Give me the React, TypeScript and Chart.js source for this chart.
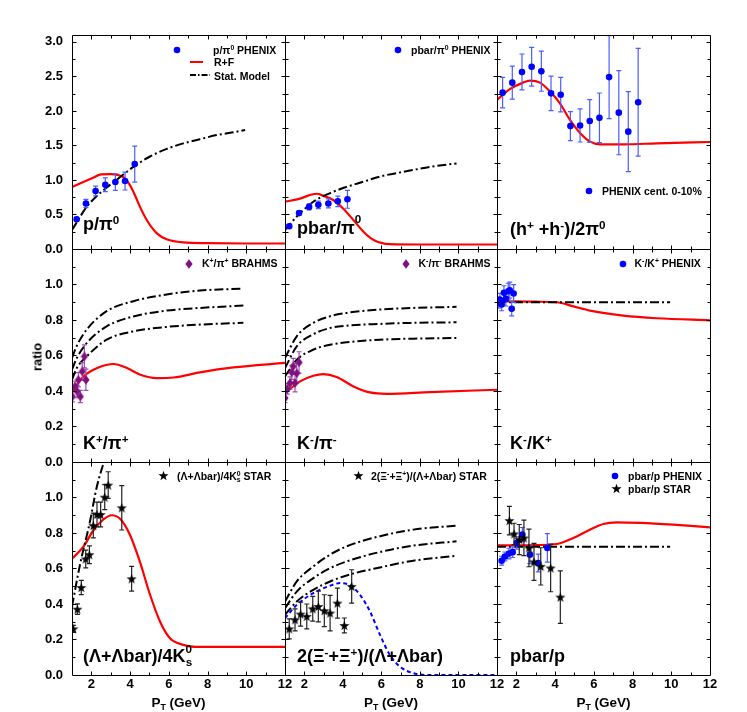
import React, { useEffect, useRef } from "react";
import { Chart, registerables } from "chart.js";
Chart.register(...registerables);

// ---------------- data ----------------
const PT_TICKS = [2, 4, 6, 8, 10, 12];
const Y_TICKS_TOP = [0, 0.5, 1.0, 1.5, 2.0, 2.5, 3.0];
const Y_TICKS_LOW = [0, 0.2, 0.4, 0.6, 0.8, 1.0];

// panel 1: p/pi0
const P1_PT = [1.24, 1.72, 2.22, 2.72, 3.24, 3.74, 4.24];
const P1_RATIO = [0.43, 0.66, 0.84, 0.93, 0.97, 0.985, 1.23];
const P1_ERR = [0.03, 0.06, 0.07, 0.1, 0.12, 0.13, 0.26];
const P1_RF_PT = [1, 1.5, 2.0, 2.5, 3.0, 3.4, 3.65, 3.91, 4.17, 4.51, 4.86, 5.37, 5.89, 6.75, 8, 10, 12];
const P1_RF = [0.9, 0.96, 1.02, 1.08, 1.085, 1.07, 1.04, 0.96, 0.83, 0.61, 0.42, 0.23, 0.14, 0.095, 0.085, 0.08, 0.08];
const P1_STAT_PT = [1, 1.76, 2.45, 3.3, 4.17, 5.03, 5.89, 6.75, 7.6, 8.47, 9.33, 9.94];
const P1_STAT = [0.275, 0.61, 0.81, 1.0, 1.19, 1.34, 1.45, 1.53, 1.59, 1.65, 1.69, 1.725];

// panel 2: pbar/pi0
const P2_PT = [1.22, 1.73, 2.25, 2.73, 3.25, 3.74, 4.24];
const P2_RATIO = [0.33, 0.52, 0.61, 0.64, 0.66, 0.69, 0.72];
const P2_ERR = [0.02, 0.03, 0.045, 0.055, 0.065, 0.075, 0.13];
const P2_RF_PT = [1, 1.78, 2.38, 2.65, 2.99, 3.5, 4.0, 4.55, 5.07, 5.6, 6.44, 8, 12];
const P2_RF = [0.685, 0.73, 0.79, 0.8, 0.77, 0.71, 0.59, 0.42, 0.25, 0.13, 0.07, 0.065, 0.065];
const P2_STAT_PT = [1, 1.61, 2.47, 3.34, 4.2, 5.07, 5.93, 6.8, 7.66, 8.53, 9.9];
const P2_STAT = [0.275, 0.47, 0.685, 0.81, 0.9, 0.975, 1.05, 1.1, 1.145, 1.19, 1.24];

// panel 3: (h+ + h-)/2pi0
const P3_PT = [1.29, 1.79, 2.29, 2.79, 3.29, 3.79, 4.29, 4.79, 5.29, 5.79, 6.29, 6.79, 7.29, 7.78, 8.29];
const P3_RATIO = [2.265, 2.41, 2.565, 2.64, 2.575, 2.255, 2.235, 1.78, 1.79, 1.855, 1.9, 2.49, 1.975, 1.7, 2.125];
const P3_ERR = [0.22, 0.24, 0.26, 0.28, 0.29, 0.25, 0.25, 0.21, 0.24, 0.31, 0.36, 0.6, 0.61, 0.58, 0.78];
const P3_RF_PT = [1, 1.66, 2.35, 2.7, 3.22, 3.74, 4.25, 4.77, 5.29, 5.8, 6.32, 7.5, 9.25, 12];
const P3_RF = [2.16, 2.315, 2.41, 2.44, 2.41, 2.28, 2.11, 1.87, 1.68, 1.555, 1.517, 1.517, 1.53, 1.55];

// panel 4: K+/pi+
const P4_PT = [1.02, 1.15, 1.27, 1.33, 1.43, 1.53, 1.64, 1.72];
const P4_RATIO = [0.369, 0.425, 0.397, 0.463, 0.369, 0.51, 0.595, 0.463];
const P4_ERR = [0.03, 0.03, 0.035, 0.04, 0.035, 0.05, 0.065, 0.06];
const P4_STAT_PT = [1, 1.25, 1.76, 2.79, 4.17, 5.89, 7.6, 9.85];
const P4_STAT_A = [0.586, 0.655, 0.746, 0.85, 0.906, 0.944, 0.966, 0.977];
const P4_STAT_B = [0.52, 0.586, 0.67, 0.764, 0.82, 0.853, 0.868, 0.881];
const P4_STAT_C = [0.463, 0.529, 0.595, 0.689, 0.736, 0.761, 0.774, 0.784];
const P4_RF_PT = [1, 1.6, 2.3, 3.15, 3.84, 4.53, 5.39, 6.25, 7.6, 9.33, 12];
const P4_RF = [0.397, 0.482, 0.529, 0.552, 0.529, 0.492, 0.473, 0.476, 0.505, 0.533, 0.558];

// panel 5: K-/pi-
const P5_PT = [1.0, 1.12, 1.26, 1.35, 1.43, 1.52, 1.61, 1.73];
const P5_RATIO = [0.36, 0.412, 0.445, 0.505, 0.539, 0.445, 0.5, 0.561];
const P5_ERR = [0.025, 0.03, 0.035, 0.04, 0.045, 0.05, 0.055, 0.06];
const P5_STAT_PT = [1, 1.61, 2.47, 3.34, 4.2, 5.93, 7.66, 9.9];
const P5_STAT_A = [0.586, 0.708, 0.784, 0.821, 0.84, 0.859, 0.868, 0.874];
const P5_STAT_B = [0.529, 0.651, 0.72, 0.755, 0.768, 0.778, 0.784, 0.787];
const P5_STAT_C = [0.482, 0.576, 0.633, 0.661, 0.674, 0.689, 0.695, 0.699];
const P5_RF_PT = [1, 1.78, 2.47, 2.99, 3.68, 4.55, 5.41, 6.28, 8.53, 12];
const P5_RF = [0.388, 0.454, 0.486, 0.495, 0.479, 0.426, 0.392, 0.384, 0.394, 0.407];

// panel 6: K-/K+
const P6_PT = [1.07, 1.15, 1.24, 1.36, 1.46, 1.58, 1.66, 1.76, 1.86];
const P6_RATIO = [0.897, 0.915, 0.887, 0.953, 0.919, 0.962, 0.968, 0.863, 0.949];
const P6_ERR = [0.03, 0.035, 0.035, 0.04, 0.04, 0.045, 0.045, 0.04, 0.05];
const P6_STAT_PT = [1, 9.94];
const P6_STAT = [0.9, 0.9];
const P6_RF_PT = [1, 2, 3, 4.08, 4.95, 5.8, 7.52, 9.25, 12];
const P6_RF = [0.905, 0.905, 0.903, 0.9, 0.877, 0.853, 0.825, 0.81, 0.798];

// panel 7: (Lambda+Lambdabar)/4K0s
const P7_PT = [1.07, 1.28, 1.48, 1.71, 1.9, 2.1, 2.29, 2.48, 2.69, 2.87, 3.57, 4.08];
const P7_RATIO = [0.26, 0.371, 0.493, 0.654, 0.678, 0.842, 0.904, 0.904, 1.002, 1.07, 0.942, 0.542];
const P7_ERR = [0.02, 0.03, 0.04, 0.05, 0.05, 0.07, 0.07, 0.07, 0.07, 0.075, 0.125, 0.07];
const P7_STAT_PT = [1, 1.41, 1.93, 2.27, 2.7];
const P7_STAT = [0.386, 0.62, 0.866, 1.055, 1.22];
const P7_RF_PT = [1, 1.6, 2.1, 2.62, 3.05, 3.48, 3.99, 4.5, 5.03, 5.55, 6.06, 6.75, 7.6, 12];
const P7_RF = [0.655, 0.725, 0.814, 0.876, 0.9, 0.88, 0.79, 0.64, 0.452, 0.3, 0.207, 0.17, 0.158, 0.158];

// panel 8: 2(Xi- + Xi+)/(Lambda+Lambdabar)
const P8_PT = [1.22, 1.52, 1.81, 2.13, 2.44, 2.73, 3.04, 3.34, 3.72, 4.08, 4.46];
const P8_RATIO = [0.26, 0.311, 0.343, 0.33, 0.373, 0.386, 0.362, 0.349, 0.405, 0.279, 0.499];
const P8_ERR = [0.056, 0.062, 0.068, 0.07, 0.07, 0.087, 0.09, 0.1, 0.085, 0.042, 0.094];
const P8_STAT_PT = [1, 1.61, 2.47, 3.34, 4.2, 5.93, 7.66, 9.9];
const P8_STAT_A = [0.414, 0.527, 0.612, 0.678, 0.725, 0.782, 0.819, 0.842];
const P8_STAT_B = [0.377, 0.47, 0.546, 0.602, 0.64, 0.693, 0.729, 0.753];
const P8_STAT_C = [0.339, 0.414, 0.48, 0.527, 0.561, 0.606, 0.644, 0.672];
const P8_MODEL_PT = [1, 1.61, 2.47, 3.34, 3.86, 4.38, 4.89, 5.41, 5.93, 6.44, 6.96, 7.66, 8.5, 12];
const P8_MODEL = [0.32, 0.395, 0.461, 0.503, 0.518, 0.505, 0.452, 0.358, 0.226, 0.113, 0.047, 0.01, 0, 0];

// panel 9: pbar/p
const P9_PHENIX_PT = [1.24, 1.41, 1.62, 1.81, 2.02, 2.31, 2.7, 3.13, 3.6];
const P9_PHENIX = [0.644, 0.668, 0.684, 0.692, 0.744, 0.791, 0.678, 0.631, 0.716];
const P9_PHENIX_ERR = [0.025, 0.025, 0.03, 0.03, 0.035, 0.04, 0.05, 0.05, 0.08];
const P9_STAR_PT = [1.64, 1.88, 2.15, 2.39, 2.65, 2.91, 3.26, 3.77, 4.27];
const P9_STAR = [0.87, 0.795, 0.763, 0.772, 0.716, 0.637, 0.612, 0.603, 0.439];
const P9_STAR_ERR = [0.08, 0.06, 0.085, 0.1, 0.106, 0.104, 0.105, 0.134, 0.148];
const P9_STAT_PT = [1, 9.94];
const P9_STAT = [0.723, 0.723];
const P9_RF_PT = [1, 2, 3, 4.08, 4.94, 5.8, 6.49, 7.18, 8.39, 10.1, 12];
const P9_RF = [0.73, 0.73, 0.732, 0.738, 0.772, 0.819, 0.851, 0.86, 0.857, 0.847, 0.832];

// ---------------- layout / styles ----------------
const FONT = "'Liberation Sans', Arial, Helvetica, sans-serif";
const COLS = [72, 285, 497, 710];
const ROWS = [35, 249, 462, 675];

type Kind = "circle" | "diamond" | "star" | "red" | "stat" | "blueDash";
type Series = { kind: Kind; x: number[]; y: number[]; err?: number[] };
type PanelDef = { ymax: number; yticks: number[]; yStep: number; series: Series[] };

const PANELS: PanelDef[] = [
  { ymax: 3.1, yticks: Y_TICKS_TOP, yStep: 0.25, series: [
    { kind: "circle", x: P1_PT, y: P1_RATIO, err: P1_ERR },
    { kind: "stat", x: P1_STAT_PT, y: P1_STAT },
    { kind: "red", x: P1_RF_PT, y: P1_RF },
  ] },
  { ymax: 3.1, yticks: Y_TICKS_TOP, yStep: 0.25, series: [
    { kind: "circle", x: P2_PT, y: P2_RATIO, err: P2_ERR },
    { kind: "stat", x: P2_STAT_PT, y: P2_STAT },
    { kind: "red", x: P2_RF_PT, y: P2_RF },
  ] },
  { ymax: 3.1, yticks: Y_TICKS_TOP, yStep: 0.25, series: [
    { kind: "circle", x: P3_PT, y: P3_RATIO, err: P3_ERR },
    { kind: "red", x: P3_RF_PT, y: P3_RF },
  ] },
  { ymax: 1.2, yticks: Y_TICKS_LOW, yStep: 0.1, series: [
    { kind: "diamond", x: P4_PT, y: P4_RATIO, err: P4_ERR },
    { kind: "stat", x: P4_STAT_PT, y: P4_STAT_A },
    { kind: "stat", x: P4_STAT_PT, y: P4_STAT_B },
    { kind: "stat", x: P4_STAT_PT, y: P4_STAT_C },
    { kind: "red", x: P4_RF_PT, y: P4_RF },
  ] },
  { ymax: 1.2, yticks: Y_TICKS_LOW, yStep: 0.1, series: [
    { kind: "diamond", x: P5_PT, y: P5_RATIO, err: P5_ERR },
    { kind: "stat", x: P5_STAT_PT, y: P5_STAT_A },
    { kind: "stat", x: P5_STAT_PT, y: P5_STAT_B },
    { kind: "stat", x: P5_STAT_PT, y: P5_STAT_C },
    { kind: "red", x: P5_RF_PT, y: P5_RF },
  ] },
  { ymax: 1.2, yticks: Y_TICKS_LOW, yStep: 0.1, series: [
    { kind: "circle", x: P6_PT, y: P6_RATIO, err: P6_ERR },
    { kind: "stat", x: P6_STAT_PT, y: P6_STAT },
    { kind: "red", x: P6_RF_PT, y: P6_RF },
  ] },
  { ymax: 1.2, yticks: Y_TICKS_LOW, yStep: 0.1, series: [
    { kind: "star", x: P7_PT, y: P7_RATIO, err: P7_ERR },
    { kind: "stat", x: P7_STAT_PT, y: P7_STAT },
    { kind: "red", x: P7_RF_PT, y: P7_RF },
  ] },
  { ymax: 1.2, yticks: Y_TICKS_LOW, yStep: 0.1, series: [
    { kind: "star", x: P8_PT, y: P8_RATIO, err: P8_ERR },
    { kind: "stat", x: P8_STAT_PT, y: P8_STAT_A },
    { kind: "stat", x: P8_STAT_PT, y: P8_STAT_B },
    { kind: "stat", x: P8_STAT_PT, y: P8_STAT_C },
    { kind: "blueDash", x: P8_MODEL_PT, y: P8_MODEL },
  ] },
  { ymax: 1.2, yticks: Y_TICKS_LOW, yStep: 0.1, series: [
    { kind: "star", x: P9_STAR_PT, y: P9_STAR, err: P9_STAR_ERR },
    { kind: "circle", x: P9_PHENIX_PT, y: P9_PHENIX, err: P9_PHENIX_ERR },
    { kind: "stat", x: P9_STAT_PT, y: P9_STAT },
    { kind: "red", x: P9_RF_PT, y: P9_RF },
  ] },
];

// ---------------- marker images ----------------
function starPoints(cx: number, cy: number, ro: number, ri: number): [number, number][] {
  const p: [number, number][] = [];
  for (let i = 0; i < 10; i++) {
    const r = i % 2 === 0 ? ro : ri;
    const a = -Math.PI / 2 + (i * Math.PI) / 5;
    p.push([cx + r * Math.cos(a), cy + r * Math.sin(a)]);
  }
  return p;
}
let STAR_IMG: HTMLCanvasElement | null = null;
let DIAMOND_IMG: HTMLCanvasElement | null = null;
function starImg() {
  if (STAR_IMG) return STAR_IMG;
  const c = document.createElement("canvas");
  c.width = 11; c.height = 11;
  const ctx = c.getContext("2d")!;
  ctx.fillStyle = "#000";
  ctx.beginPath();
  starPoints(5.5, 6, 5.3, 2.1).forEach(([x, y], i) => (i ? ctx.lineTo(x, y) : ctx.moveTo(x, y)));
  ctx.closePath();
  ctx.fill();
  STAR_IMG = c;
  return c;
}
function diamondImg() {
  if (DIAMOND_IMG) return DIAMOND_IMG;
  const c = document.createElement("canvas");
  c.width = 8; c.height = 10;
  const ctx = c.getContext("2d")!;
  ctx.fillStyle = "#80107f";
  ctx.beginPath();
  ctx.moveTo(4, 0.3); ctx.lineTo(7.6, 5); ctx.lineTo(4, 9.7); ctx.lineTo(0.4, 5);
  ctx.closePath();
  ctx.fill();
  DIAMOND_IMG = c;
  return c;
}

function toDataset(s: Series): any {
  const data = s.x.map((v, i) => ({ x: v, y: s.y[i] }));
  switch (s.kind) {
    case "circle":
      return { data, errors: s.err, errColor: "#4d5cff", showLine: false, pointStyle: "circle", pointRadius: 3.3,
        pointBackgroundColor: "#0000ff", pointBorderWidth: 0 };
    case "diamond":
      return { data, errors: s.err, errColor: "#a050b4", showLine: false, pointStyle: diamondImg(), pointRadius: 4 };
    case "star":
      return { data, errors: s.err, errColor: "#222", showLine: false, pointStyle: starImg(), pointRadius: 4 };
    case "red":
      return { data, showLine: true, borderColor: "#ff0000", borderWidth: 2.2, pointRadius: 0, cubicInterpolationMode: "monotone" };
    case "stat":
      return { data, showLine: true, borderColor: "#000", borderWidth: 2, borderDash: [9, 3, 2, 3], pointRadius: 0, cubicInterpolationMode: "monotone" };
    case "blueDash":
      return { data, showLine: true, borderColor: "#0000ff", borderWidth: 2, borderDash: [4, 3], pointRadius: 0, cubicInterpolationMode: "monotone" };
  }
}

// ---------------- plugins ----------------
const errorBars = {
  id: "errorBars",
  beforeDatasetDraw(chart: any, args: any) {
    const ds = chart.data.datasets[args.index];
    if (!ds.errors) return;
    const { ctx, chartArea: a, scales } = chart;
    ctx.save();
    ctx.beginPath();
    ctx.rect(a.left, a.top, a.right - a.left, a.bottom - a.top);
    ctx.clip();
    ctx.strokeStyle = ds.errColor;
    ctx.lineWidth = 1.2;
    ds.data.forEach((p: any, i: number) => {
      const e = ds.errors[i];
      const px = scales.x.getPixelForValue(p.x);
      const y1 = scales.y.getPixelForValue(p.y - e);
      const y2 = scales.y.getPixelForValue(p.y + e);
      ctx.beginPath();
      ctx.moveTo(px, y1); ctx.lineTo(px, y2);
      ctx.moveTo(px - 2.5, y1); ctx.lineTo(px + 2.5, y1);
      ctx.moveTo(px - 2.5, y2); ctx.lineTo(px + 2.5, y2);
      ctx.stroke();
    });
    ctx.restore();
  },
};

const frame = {
  id: "frame",
  afterDraw(chart: any, _args: any, opts: any) {
    const { ctx, chartArea: a, scales } = chart;
    const L = Math.floor(a.left) + 0.5, R = Math.floor(a.right) + 0.5;
    const T = Math.floor(a.top) + 0.5, B = Math.floor(a.bottom) + 0.5;
    ctx.save();
    ctx.strokeStyle = "#000";
    ctx.lineWidth = 1;
    ctx.beginPath();
    for (let v = 2; v < 12; v++) {
      const px = Math.round(scales.x.getPixelForValue(v)) + 0.5;
      const len = v % 2 === 0 ? 4 : 3;
      ctx.moveTo(px, B); ctx.lineTo(px, B - len);
      ctx.moveTo(px, T); ctx.lineTo(px, T + len);
    }
    const n = Math.round(opts.ymax / opts.yStep);
    for (let k = 1; k <= n; k++) {
      const v = k * opts.yStep;
      if (v >= opts.ymax - 1e-6) break;
      const py = Math.round(scales.y.getPixelForValue(v)) + 0.5;
      const len = k % 2 === 0 ? 4 : 3;
      ctx.moveTo(L, py); ctx.lineTo(L + len, py);
      ctx.moveTo(R, py); ctx.lineTo(R - len, py);
    }
    ctx.stroke();
    ctx.beginPath();
    ctx.rect(L, T, R - L, B - T);
    ctx.stroke();
    ctx.restore();
  },
};

// ---------------- panel ----------------
function Panel({ def, col, row }: { def: PanelDef; col: number; row: number }) {
  const ref = useRef<HTMLCanvasElement>(null);
  const showY = col === 0;
  const showX = row === 2;
  const padL = showY ? 72 : 20;
  const padR = 20, padT = 20;
  const padB = showX ? 712 - ROWS[3] : 20;
  const w = COLS[col + 1] - COLS[col];
  const h = ROWS[row + 1] - ROWS[row];
  const cw = w + padL + padR;
  const chh = h + padT + padB;
  useEffect(() => {
    const tickFont = { family: FONT, size: 13, weight: "bold" as const };
    const xScale: any = {
      type: "linear", min: 1, max: 12, display: showX,
      afterBuildTicks: (s: any) => { s.ticks = PT_TICKS.map((v) => ({ value: v })); },
      grid: { display: false, drawTicks: false },
      border: { display: false },
      ticks: { font: tickFont, color: "#000", padding: 2, maxRotation: 0, autoSkip: false },
    };
    if (showX) xScale.afterFit = (s: any) => { s.height = padB; };
    const yScale: any = {
      type: "linear", min: 0, max: def.ymax, display: showY,
      afterBuildTicks: (s: any) => { s.ticks = def.yticks.map((v) => ({ value: v })); },
      grid: { display: false, drawTicks: false },
      border: { display: false },
      ticks: { font: tickFont, color: "#000", padding: 9, autoSkip: false, callback: (v: any) => Number(v).toFixed(1) },
    };
    if (showY) yScale.afterFit = (s: any) => { s.width = padL; };
    const chart = new Chart(ref.current!, {
      type: "scatter",
      data: { datasets: def.series.map(toDataset) },
      plugins: [errorBars, frame],
      options: {
        animation: false,
        responsive: false,
        events: [],
        layout: { padding: { left: showY ? 0 : padL, right: padR, top: padT, bottom: showX ? 0 : padB } },
        plugins: {
          legend: { display: false },
          tooltip: { enabled: false },
          frame: { ymax: def.ymax, yStep: def.yStep },
        } as any,
        scales: { x: xScale, y: yScale } as any,
      },
    });
    return () => chart.destroy();
  }, []);
  return (
    <canvas
      ref={ref}
      width={cw}
      height={chh}
      style={{ position: "absolute", left: COLS[col] - padL, top: ROWS[row] - padT, width: cw, height: chh, display: "block" }}
    />
  );
}

// ---------------- text helpers ----------------
const Sup = ({ children, top = -0.55 }: any) => (
  <span style={{ fontSize: "0.65em", position: "relative", top: `${top}em`, verticalAlign: "baseline" }}>{children}</span>
);
const Sub = ({ children, ml = 0 }: any) => (
  <span style={{ fontSize: "0.65em", position: "relative", top: "0.3em", marginLeft: `${ml}em`, verticalAlign: "baseline" }}>{children}</span>
);

function PanelLabel({ left, baseline, children }: any) {
  return (
    <div style={{ position: "absolute", left, top: baseline - 16, fontSize: 18, lineHeight: "18px", fontWeight: "bold", whiteSpace: "nowrap", fontFamily: FONT }}>
      {children}
    </div>
  );
}

function Marker({ kind, x, y }: { kind: string; x: number; y: number }) {
  if (kind === "circle")
    return <svg style={{ position: "absolute", left: x - 4, top: y - 4 }} width={8} height={8}><circle cx={4} cy={4} r={3.3} fill="#0000ff" /></svg>;
  if (kind === "diamond")
    return <svg style={{ position: "absolute", left: x - 4, top: y - 5 }} width={8} height={10}><polygon points="4,0.3 7.6,5 4,9.7 0.4,5" fill="#80107f" /></svg>;
  const pts = starPoints(5.5, 6, 5.3, 2.1).map((p) => p.join(",")).join(" ");
  return <svg style={{ position: "absolute", left: x - 5.5, top: y - 6 }} width={11} height={11}><polygon points={pts} fill="#000" /></svg>;
}

function LegendText({ left, cy, children }: any) {
  return (
    <div style={{ position: "absolute", left, top: cy - 6.5, fontSize: 10.5, lineHeight: "13px", fontWeight: "bold", whiteSpace: "nowrap", fontFamily: FONT }}>
      {children}
    </div>
  );
}

function LineSample({ x1, x2, y, color, dash }: any) {
  return (
    <svg style={{ position: "absolute", left: x1, top: y - 2 }} width={x2 - x1} height={4}>
      <line x1={0} y1={2} x2={x2 - x1} y2={2} stroke={color} strokeWidth={2} strokeDasharray={dash} />
    </svg>
  );
}

export default function App() {
  return (
    <div style={{ position: "absolute", left: 0, top: 0, width: 747, height: 712, background: "#fff", fontFamily: FONT, color: "#000", overflow: "hidden" }}>
      {PANELS.map((d, i) => (
        <Panel key={i} def={d} col={i % 3} row={Math.floor(i / 3)} />
      ))}

      {/* legends */}
      <Marker kind="circle" x={177} y={50} />
      <LegendText left={213} cy={50}>p/π<Sup>0</Sup> PHENIX</LegendText>
      <LineSample x1={190} x2={203} y={61.5} color="#ff0000" />
      <LegendText left={214} cy={62.5}>R+F</LegendText>
      <LineSample x1={190} x2={210} y={74.5} color="#000" dash="6 2 1.5 2" />
      <LegendText left={214} cy={76}>Stat. Model</LegendText>

      <Marker kind="circle" x={398} y={50} />
      <LegendText left={411} cy={50}>pbar/π<Sup>0</Sup> PHENIX</LegendText>

      <Marker kind="circle" x={589} y={191} />
      <LegendText left={602} cy={191}>PHENIX cent. 0-10%</LegendText>

      <Marker kind="diamond" x={189} y={263.5} />
      <LegendText left={202} cy={263.5}>K<Sup>+</Sup>/π<Sup>+</Sup> BRAHMS</LegendText>

      <Marker kind="diamond" x={406} y={263.5} />
      <LegendText left={418.5} cy={263.5}>K<Sup>-</Sup>/π<Sup>-</Sup> BRAHMS</LegendText>

      <Marker kind="circle" x={623} y={263.5} />
      <LegendText left={634.5} cy={263.5}>K<Sup>-</Sup>/K<Sup>+</Sup> PHENIX</LegendText>

      <Marker kind="star" x={163.5} y={476} />
      <LegendText left={177} cy={476}>(Λ+Λbar)/4K<Sup>0</Sup><Sub ml={-0.55}>s</Sub> STAR</LegendText>

      <Marker kind="star" x={358.5} y={476} />
      <LegendText left={371} cy={476}>2(Ξ<Sup>-</Sup>+Ξ<Sup>+</Sup>)/(Λ+Λbar) STAR</LegendText>

      <Marker kind="circle" x={615} y={476} />
      <LegendText left={628} cy={476}>pbar/p PHENIX</LegendText>
      <Marker kind="star" x={616} y={489} />
      <LegendText left={628} cy={489}>pbar/p STAR</LegendText>

      {/* panel labels */}
      <PanelLabel left={83} baseline={231}>p/π<Sup>0</Sup></PanelLabel>
      <PanelLabel left={297} baseline={235}>pbar/π<Sup top={-0.95}>0</Sup></PanelLabel>
      <PanelLabel left={510} baseline={236}>(h<Sup>+</Sup> +h<Sup>-</Sup>)/2π<Sup>0</Sup></PanelLabel>
      <PanelLabel left={83} baseline={450}>K<Sup>+</Sup>/π<Sup>+</Sup></PanelLabel>
      <PanelLabel left={297} baseline={450}>K<Sup>-</Sup>/π<Sup>-</Sup></PanelLabel>
      <PanelLabel left={510} baseline={450}>K<Sup>-</Sup>/K<Sup>+</Sup></PanelLabel>
      <PanelLabel left={83} baseline={663}>(Λ+Λbar)/4K<Sup top={-0.8}>0</Sup><Sub ml={-0.55}>s</Sub></PanelLabel>
      <PanelLabel left={297} baseline={663}>2(Ξ<Sup>-</Sup>+Ξ<Sup>+</Sup>)/(Λ+Λbar)</PanelLabel>
      <PanelLabel left={510} baseline={663}>pbar/p</PanelLabel>

      {/* axis titles */}
      <div style={{ position: "absolute", left: 37, top: 357, transform: "translate(-50%, -50%) rotate(-90deg)", fontSize: 13, fontWeight: "bold", whiteSpace: "nowrap" }}>ratio</div>
      {[178.5, 391, 603.5].map((cx, i) => (
        <div key={i} style={{ position: "absolute", left: cx, top: 703, transform: "translate(-50%, -50%)", fontSize: 13.5, lineHeight: "16px", fontWeight: "bold", whiteSpace: "nowrap" }}>
          P<Sub>T</Sub> (GeV)
        </div>
      ))}
    </div>
  );
}
